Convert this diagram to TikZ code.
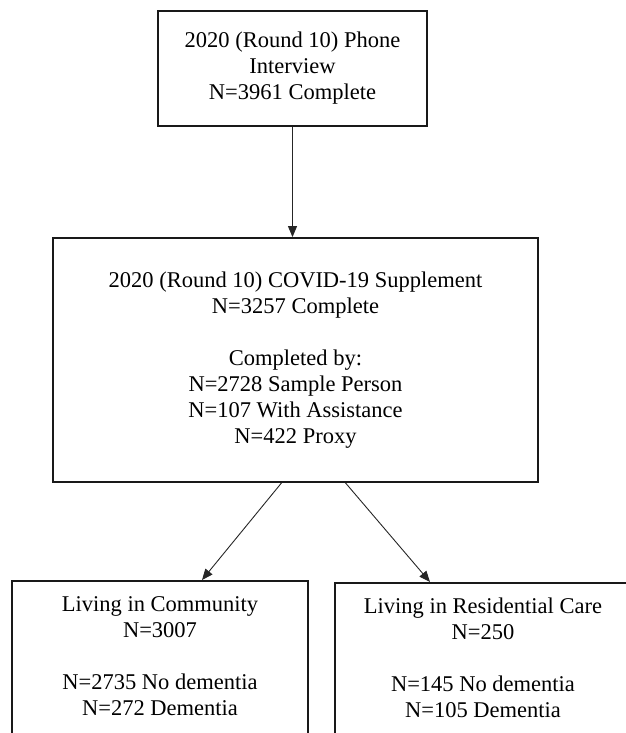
\documentclass[tikz,border=0pt]{standalone}
\usepackage{fontspec}
\setmainfont{Liberation Serif}
\usetikzlibrary{arrows.meta}
\begin{document}
\begin{tikzpicture}[x=1bp,y=-1bp,
  boxline/.style={draw=black!90, line width=1.8bp},
  txt/.style={align=center, font=\fontsize{22.5bp}{26bp}\selectfont, inner sep=0pt},
  conn/.style={draw=black!85, line width=0.9bp, -{Triangle[length=11bp,width=9bp]}}
]
\useasboundingbox (0,0) rectangle (626,733);
\clip (0,0) rectangle (626,733);

\node[boxline, txt, minimum width=269bp, minimum height=115bp] (phone) at (292.5,68.5)
  {2020 (Round 10) Phone\\Interview\\N=3961 Complete};

\node[boxline, txt, minimum width=485bp, minimum height=244bp] (covid) at (295.5,360)
  {2020 (Round 10) COVID-19 Supplement\\N=3257 Complete\\[26bp]Completed by:\\N=2728 Sample Person\\N=107 With Assistance\\N=422 Proxy};

\node[boxline, minimum width=296bp, minimum height=200bp, anchor=north] (comm) at (160,580) {};
\node[txt] (commtext) at (160,656)
  {Living in Community\\N=3007\\[26bp]N=2735 No dementia\\N=272 Dementia};

\node[boxline, minimum width=296bp, minimum height=200bp, anchor=north] (res) at (483,582) {};
\node[txt] (restext) at (483,658)
  {Living in Residential Care\\N=250\\[26bp]N=145 No dementia\\N=105 Dementia};

\draw[conn] (phone.south) -- (phone.south |- covid.north);
\draw[conn] ([xshift=-14bp]covid.south) -- ([xshift=42bp]comm.north);
\draw[conn] ([xshift=50bp]covid.south) -- ([xshift=-53bp]res.north);
\end{tikzpicture}
\end{document}
